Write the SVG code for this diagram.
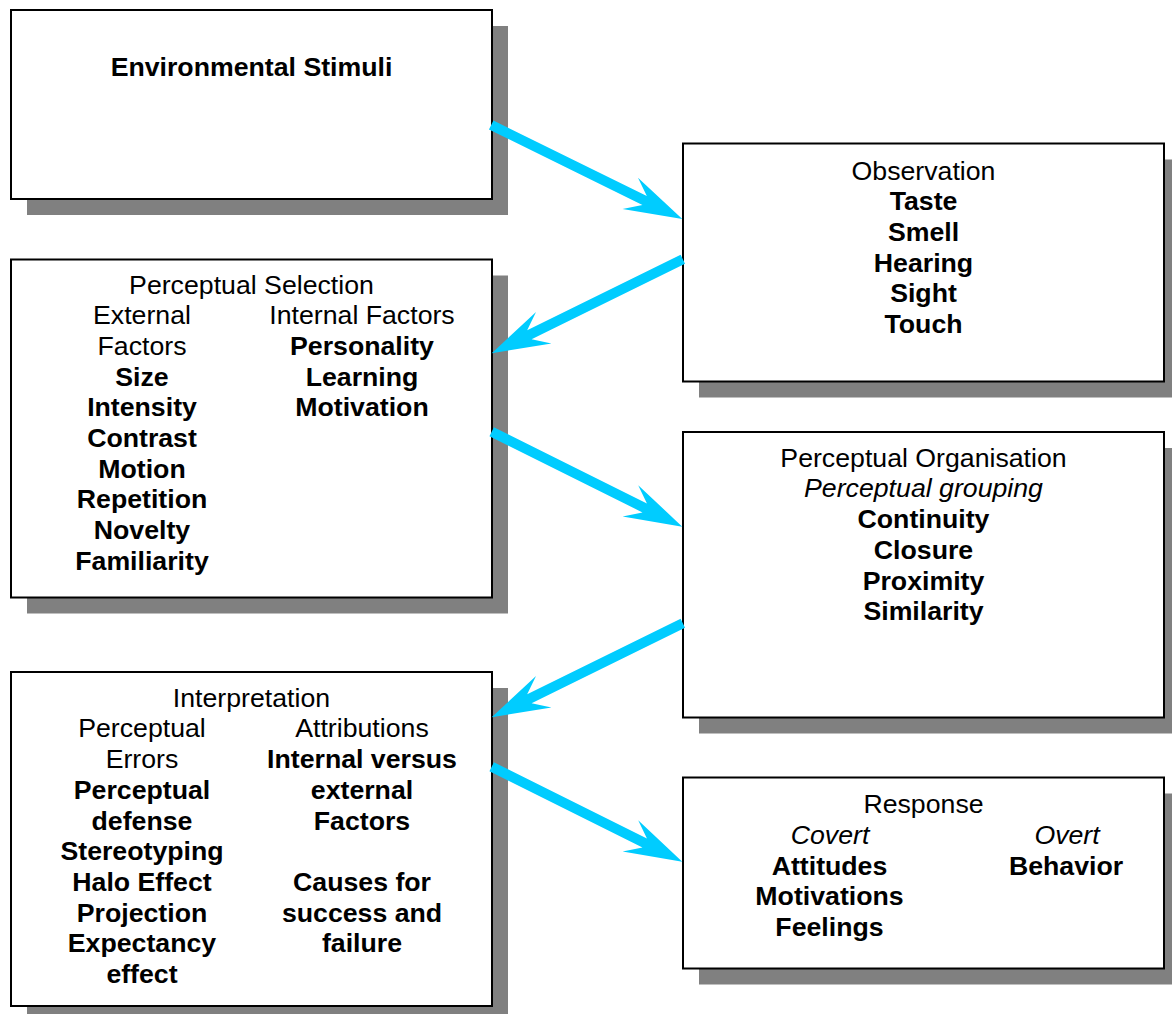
<svg xmlns="http://www.w3.org/2000/svg" width="1172" height="1014" viewBox="0 0 1172 1014">
  <style>
    .shadow { fill: #808080; }
    .box { fill: #ffffff; stroke: #000000; stroke-width: 2; }
    text { font-family: "Liberation Sans", Arial, sans-serif; font-size: 26.7px; fill: #000000; text-anchor: middle; }
    .b { font-weight: bold; }
    .i { font-style: italic; }
    .arrow { fill: #00ccff; }
  </style>
  <defs>
    <!-- block arrow pointing along +x, tip at the origin -->
    <path id="blockArrow" d="M0,0 L-58,-17.5 L-42,-5 L-213,-5 L-213,5 L-42,5 L-58,17.5 Z"/>
  </defs>

  <rect width="1172" height="1014" fill="#ffffff"/>

  <g id="environmental-stimuli">
    <rect class="shadow" x="27" y="26" width="481" height="189"/>
    <rect class="box" x="11" y="10" width="481" height="189"/>
    <text class="b" x="251.5" y="76">Environmental Stimuli</text>
  </g>

  <g id="observation">
    <rect class="shadow" x="699" y="159.5" width="481" height="238"/>
    <rect class="box" x="683" y="143.5" width="481" height="238"/>
    <text x="923.5" y="179.5">Observation</text>
    <text class="b" x="923.5" y="210.2">Taste</text>
    <text class="b" x="923.5" y="240.9">Smell</text>
    <text class="b" x="923.5" y="271.6">Hearing</text>
    <text class="b" x="923.5" y="302.3">Sight</text>
    <text class="b" x="923.5" y="333">Touch</text>
  </g>

  <g id="perceptual-selection">
    <rect class="shadow" x="27" y="275.5" width="481" height="338"/>
    <rect class="box" x="11" y="259.5" width="481" height="338"/>
    <text x="251.5" y="293.5">Perceptual Selection</text>
    <text x="142" y="324.2">External</text>
    <text x="142" y="354.9">Factors</text>
    <text class="b" x="142" y="385.6">Size</text>
    <text class="b" x="142" y="416.3">Intensity</text>
    <text class="b" x="142" y="447">Contrast</text>
    <text class="b" x="142" y="477.7">Motion</text>
    <text class="b" x="142" y="508.4">Repetition</text>
    <text class="b" x="142" y="539.1">Novelty</text>
    <text class="b" x="142" y="569.8">Familiarity</text>
    <text x="362" y="324.2">Internal Factors</text>
    <text class="b" x="362" y="354.9">Personality</text>
    <text class="b" x="362" y="385.6">Learning</text>
    <text class="b" x="362" y="416.3">Motivation</text>
  </g>

  <g id="perceptual-organisation">
    <rect class="shadow" x="699" y="448" width="481" height="285.5"/>
    <rect class="box" x="683" y="432" width="481" height="285.5"/>
    <text x="923.5" y="466.7">Perceptual Organisation</text>
    <text class="i" x="923.5" y="497.4">Perceptual grouping</text>
    <text class="b" x="923.5" y="528.1">Continuity</text>
    <text class="b" x="923.5" y="558.8">Closure</text>
    <text class="b" x="923.5" y="589.5">Proximity</text>
    <text class="b" x="923.5" y="620.2">Similarity</text>
  </g>

  <g id="interpretation">
    <rect class="shadow" x="27" y="688" width="481" height="334"/>
    <rect class="box" x="11" y="672" width="481" height="334"/>
    <text x="251.5" y="706.7">Interpretation</text>
    <text x="142" y="737.4">Perceptual</text>
    <text x="142" y="768.1">Errors</text>
    <text class="b" x="142" y="798.8">Perceptual</text>
    <text class="b" x="142" y="829.5">defense</text>
    <text class="b" x="142" y="860.2">Stereotyping</text>
    <text class="b" x="142" y="890.9">Halo Effect</text>
    <text class="b" x="142" y="921.6">Projection</text>
    <text class="b" x="142" y="952.3">Expectancy</text>
    <text class="b" x="142" y="983">effect</text>
    <text x="362" y="737.4">Attributions</text>
    <text class="b" x="362" y="768.1">Internal versus</text>
    <text class="b" x="362" y="798.8">external</text>
    <text class="b" x="362" y="829.5">Factors</text>
    <text class="b" x="362" y="890.9">Causes for</text>
    <text class="b" x="362" y="921.6">success and</text>
    <text class="b" x="362" y="952.3">failure</text>
  </g>

  <g id="response">
    <rect class="shadow" x="699" y="793.5" width="481" height="191"/>
    <rect class="box" x="683" y="777.5" width="481" height="191"/>
    <text x="923.5" y="813.3">Response</text>
    <text class="i" x="830" y="844">Covert</text>
    <text class="i" x="1067" y="844">Overt</text>
    <text class="b" x="829.5" y="874.7">Attitudes</text>
    <text class="b" x="829.5" y="905.4">Motivations</text>
    <text class="b" x="829.5" y="936.1">Feelings</text>
    <text class="b" x="1066" y="874.7">Behavior</text>
  </g>

  <g id="connectors" class="arrow">
    <use href="#blockArrow" transform="translate(682.3,219) rotate(26.2)"/>
    <use href="#blockArrow" transform="translate(491.7,353.3) rotate(153.8)"/>
    <use href="#blockArrow" transform="translate(682.3,526.7) rotate(26.5)"/>
    <use href="#blockArrow" transform="translate(491.7,717.3) rotate(153.8)"/>
    <use href="#blockArrow" transform="translate(682.3,861.7) rotate(26.5)"/>
  </g>
</svg>
